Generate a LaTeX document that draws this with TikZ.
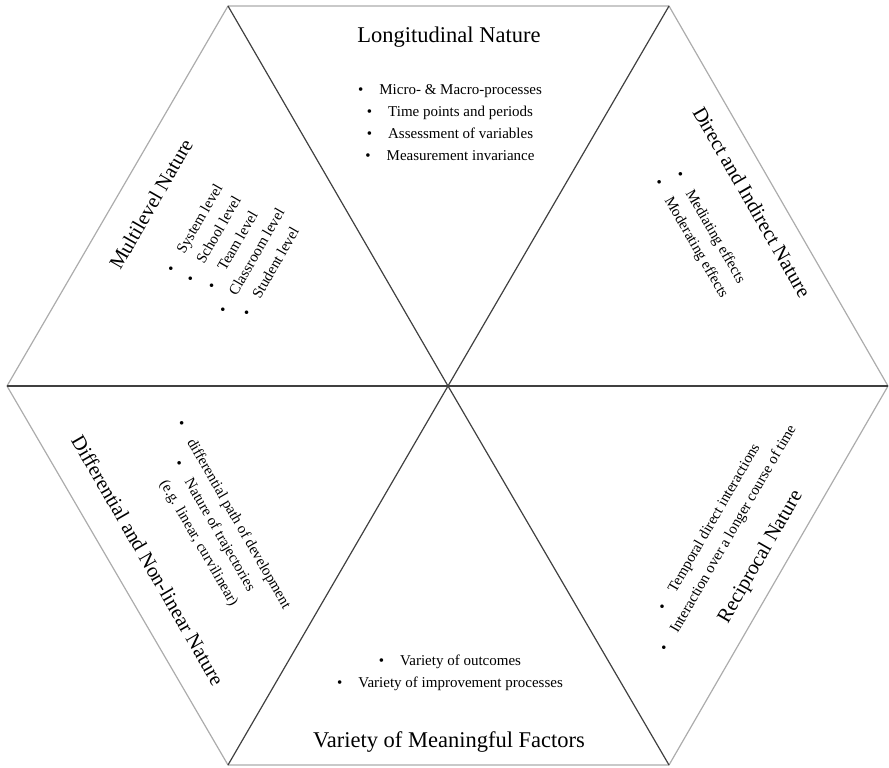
\documentclass[tikz,border=0pt]{standalone}
\usepackage{fontspec}
\setmainfont{Liberation Serif}
\tikzset{
  rim/.style={draw=gray!65, line width=0.6pt},
  spoke/.style={draw=black!75, line width=0.6pt},
  heading/.style={font=\fontsize{11.25}{13}\selectfont, inner sep=0pt},
  slanthead/.style={font=\fontsize{10.25}{12}\selectfont, inner sep=0pt},
  points/.style={font=\fontsize{7.5}{11}\selectfont, align=center, inner sep=0pt},
}
\newcommand{\bul}[1]{\textbullet\hspace{8pt}#1}
\begin{document}
\begin{tikzpicture}[x=0.5pt,y=-0.5pt]
\useasboundingbox (0,0) rectangle (889,767);
% corners of the hexagon
\coordinate (c) at (448,386);
\coordinate (tl) at (228,6);
\coordinate (tr) at (669,6);
\coordinate (r) at (888,386);
\coordinate (br) at (669,765);
\coordinate (bl) at (228,765);
\coordinate (l) at (7,386);
\draw [rim] (tl) -- (tr) -- (r) -- (br) -- (bl) -- (l) -- cycle;
\draw [spoke] (tl) -- (c) -- (br);
\draw [spoke] (tr) -- (c) -- (bl);
\draw [spoke] (l) -- (c) -- (r);
% top
\node [heading] (longtitle) at (449,37) {Longitudinal Nature};
\node [points] (longlist) at (450,123) {\bul{Micro- \& Macro-processes}\\ \bul{Time points and periods}\\ \bul{Assessment of variables}\\ \bul{Measurement invariance}};
% bottom
\node [points] (varlist) at (450,673) {\bul{Variety of outcomes}\\ \bul{Variety of improvement processes}};
\node [heading] (vartitle) at (449,742) {Variety of Meaningful Factors};
% upper left
\node [slanthead, rotate=60] (multititle) at (151,204) {Multilevel Nature};
\node [points, rotate=60] (multilist) at (232,250) {\bul{System level}\\ \bul{School level}\\ \bul{Team level}\\ \bul{Classroom level}\\ \bul{Student level}};
% upper right
\node [slanthead, rotate=-60] (directtitle) at (752,202) {Direct and Indirect Nature};
\node [points, rotate=-60] (directlist) at (700,233) {\bul{Mediating effects}\\ \bul{Moderating effects}};
% lower left
\node [slanthead, rotate=-60] (difftitle) at (148,560) {Differential and Non-linear Nature};
\node [points, rotate=-60] (difflist) at (214,526) {\bul{differential path of development}\\ \bul{Nature of trajectories}\\ \hspace*{7pt}(e.g. linear, curvilinear)};
% lower right
\node [slanthead, rotate=60] (recititle) at (761,557) {Reciprocal Nature};
\node [points, rotate=60] (recilist) at (719,533) {\bul{Temporal direct interactions}\\ \bul{Interaction over a longer course of time}};
\end{tikzpicture}
\end{document}
